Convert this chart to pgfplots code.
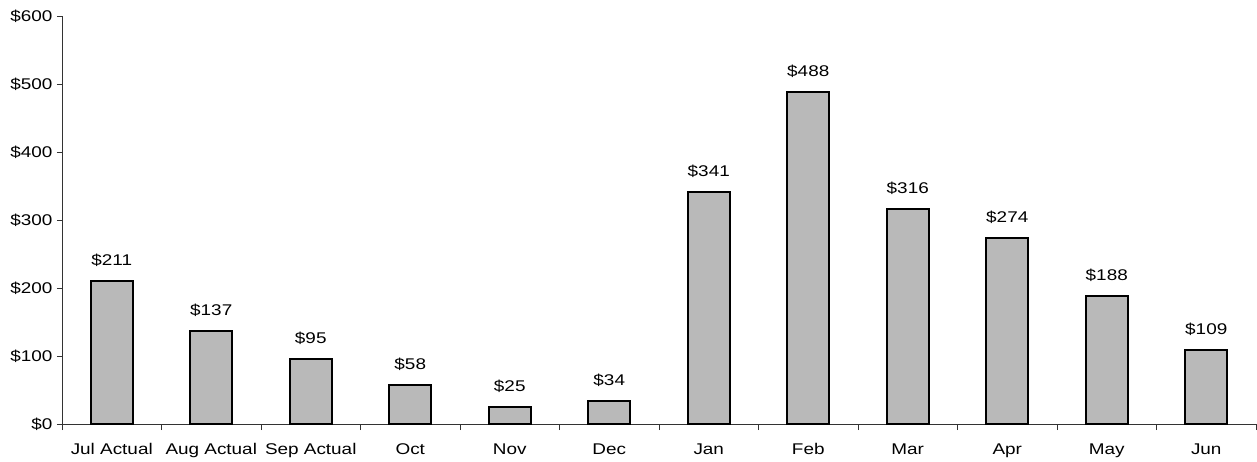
\documentclass[border=0pt]{standalone}
\usepackage{fontspec}
\setmainfont{Liberation Sans}[FakeStretch=1.22]
\usepackage{pgfplots}
\pgfplotsset{compat=1.18}
\definecolor{barfill}{RGB}{185,185,185}
\begin{document}
\begin{tikzpicture}
\begin{axis}[
  scale only axis,
  width=1194pt, height=408pt,
  xmin=-0.5, xmax=11.5,
  ymin=0, ymax=600,
  axis x line*=bottom, axis y line*=left,
  axis line style={line width=0.9pt, black!80},
  xtick={0,...,11},
  xticklabels={Jul Actual,Aug Actual,Sep Actual,Oct,Nov,Dec,Jan,Feb,Mar,Apr,May,Jun},
  minor xtick={-0.5,0.5,...,11.5},
  ytick={0,100,...,600},
  yticklabels={\$0,\$100,\$200,\$300,\$400,\$500,\$600},
  tick style={line width=0.9pt, black!80},
  major x tick style={draw=none},
  tick align=outside,
  major tick length=5pt, minor tick length=6pt,
  ticklabel style={font=\fontsize{15.5}{17}\selectfont},
  xticklabel style={yshift=-11pt},
  yticklabel style={xshift=-1pt},
  every tick label/.append style={/pgf/number format/assume math mode=true},
  ybar, bar width=42pt,
  nodes near coords={\$\pgfmathprintnumber[assume math mode=true]{\pgfplotspointmeta}},
  nodes near coords style={font=\fontsize{15.5}{17}\selectfont, yshift=10pt},
  clip=false,
]
\addplot[fill=barfill, draw=black, line width=2pt] coordinates {
(0,211) (1,137) (2,95) (3,58) (4,25) (5,34) (6,341) (7,488) (8,316) (9,274) (10,188) (11,109)};
\end{axis}
\pgfresetboundingbox
\path[use as bounding box] (-62pt,-37pt) rectangle (1195pt,424pt);
\end{tikzpicture}
\end{document}
